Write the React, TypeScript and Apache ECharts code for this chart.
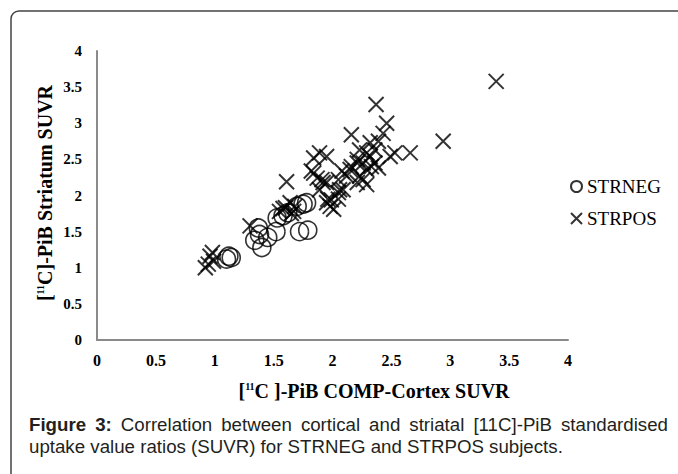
import React, { useEffect, useRef } from "react";
import * as echarts from "echarts";

// ---- data ----
const seriesNames = ["STRNEG", "STRPOS"];

const strnegX = [1.10, 1.12, 1.14, 1.37, 1.38, 1.34, 1.40, 1.45, 1.52, 1.53, 1.58, 1.62, 1.72, 1.79, 1.75, 1.78, 1.70];
const strnegY = [1.12, 1.16, 1.14, 1.55, 1.46, 1.38, 1.28, 1.42, 1.50, 1.69, 1.72, 1.76, 1.50, 1.52, 1.88, 1.90, 1.85];

const strposX = [
  0.92, 0.945, 0.96, 0.99, 0.98, 1.30, 1.55, 1.58, 1.60, 1.61, 1.64, 1.65, 1.67, 1.68,
  1.82, 1.84, 1.84, 1.87, 1.89, 1.89, 1.91, 1.92, 1.95, 1.95, 1.95, 1.96, 1.98, 1.99,
  2.01, 2.05, 2.05, 2.05, 2.06, 2.08, 2.09, 2.12, 2.15, 2.16, 2.16, 2.21, 2.21, 2.21,
  2.23, 2.23, 2.26, 2.26, 2.29, 2.29, 2.29, 2.32, 2.32, 2.33, 2.36, 2.36, 2.37, 2.39,
  2.39, 2.43, 2.46, 2.49, 2.53, 2.66, 2.94, 3.39,
];
const strposY = [
  1.00, 1.05, 1.16, 1.09, 1.21, 1.58, 1.78, 1.82, 1.83, 2.19, 1.90, 1.75, 1.78, 1.85,
  2.34, 2.31, 2.52, 2.24, 2.59, 2.08, 2.22, 2.18, 2.54, 2.18, 1.90, 1.95, 1.85, 1.94,
  1.81, 1.95, 2.22, 2.04, 2.08, 2.34, 2.08, 2.27, 2.36, 2.40, 2.84, 2.45, 2.50, 2.18,
  2.63, 2.27, 2.45, 2.22, 2.59, 2.15, 2.36, 2.54, 2.73, 2.40, 2.63, 2.45, 3.26, 2.75,
  2.38, 2.86, 3.00, 2.54, 2.59, 2.59, 2.75, 3.58,
];

const axisMin = 0;
const axisMax = 4;
const axisStep = 0.5;

const xTitle = "{a|[}{s|11}{a|C ]-PiB COMP-Cortex SUVR}";
const yTitle = "{a|[}{s|11}{a|C]-PiB Striatum SUVR}";
const captionLine1 = [
  { t: "Figure", b: true },
  { t: "3:", b: true },
  { t: "Correlation", b: false },
  { t: "between", b: false },
  { t: "cortical", b: false },
  { t: "and", b: false },
  { t: "striatal", b: false },
  { t: "[11C]-PiB", b: false },
  { t: "standardised", b: false },
];
const captionLine2 = "uptake value ratios (SUVR) for STRNEG and STRPOS subjects.";

const SERIF = "'Liberation Serif', 'Times New Roman', serif";
const SANS = "'Liberation Sans', Arial, sans-serif";

export default function App() {
  const ref = useRef<HTMLDivElement>(null);

  useEffect(() => {
    if (!ref.current) return;
    const chart = echarts.init(ref.current, undefined, { renderer: "svg" });

    // justified first caption line
    const capSize = 18.7;
    const capLeft = 29;
    const capRight = 668;
    const canvas = document.createElement("canvas");
    const ctx = canvas.getContext("2d")!;
    const widths = captionLine1.map((w) => {
      ctx.font = `${w.b ? "bold " : ""}${capSize}px "Liberation Sans", Arial, sans-serif`;
      return ctx.measureText(w.t).width;
    });
    const total = widths.reduce((a, b) => a + b, 0);
    const gap = (capRight - capLeft - total) / (captionLine1.length - 1);
    let cx = capLeft;
    const captionWords: any[] = captionLine1.map((w, i) => {
      const el = {
        type: "text",
        x: cx,
        y: 424,
        silent: true,
        style: {
          text: w.t,
          fontFamily: SANS,
          fontSize: capSize,
          fontWeight: w.b ? "bold" : "normal",
          fill: "#231f20",
          align: "left",
          textAlign: "left",
          verticalAlign: "middle",
          textVerticalAlign: "middle",
        },
      };
      cx += widths[i] + gap;
      return el;
    });

    const titleRich = {
      a: { fontFamily: SERIF, fontWeight: "bold", fontSize: 20, fill: "#000", color: "#000", lineHeight: 22 },
      s: { fontFamily: SERIF, fontWeight: "bold", fontSize: 10, fill: "#000", color: "#000", lineHeight: 22, verticalAlign: "top", padding: [1, 0, 0, 0] },
    };

    const option: any = {
      animation: false,
      backgroundColor: "#fff",
      grid: { left: 97, right: 110, top: 51, bottom: 134, containLabel: false, outerBoundsMode: "none" },
      legend: {
        data: seriesNames,
        orient: "vertical",
        left: 565,
        top: 171,
        itemWidth: 11,
        itemHeight: 11,
        itemGap: 11,
        textStyle: { fontFamily: SERIF, fontSize: 19, color: "#000", lineHeight: 21 },
      },
      xAxis: {
        type: "value",
        min: axisMin,
        max: axisMax,
        interval: axisStep,
        axisLine: { show: true, onZero: false, lineStyle: { color: "#8a8a8a", width: 2 } },
        axisTick: { show: false },
        splitLine: { show: false },
        axisLabel: { fontFamily: SERIF, fontWeight: "bold", fontSize: 16, color: "#000", margin: 12 },
      },
      yAxis: {
        type: "value",
        min: axisMin,
        max: axisMax,
        interval: axisStep,
        axisLine: { show: true, onZero: false, lineStyle: { color: "#8a8a8a", width: 2 } },
        axisTick: { show: false },
        splitLine: { show: false },
        axisLabel: { fontFamily: SERIF, fontWeight: "bold", fontSize: 15, color: "#000", margin: 15 },
      },
      series: [
        {
          name: seriesNames[0],
          type: "scatter",
          symbol: "circle",
          symbolSize: 18,
          data: strnegX.map((x, i) => [x, strnegY[i]]),
          itemStyle: { color: "rgba(0,0,0,0)", borderColor: "#000", borderWidth: 1.6 },
        },
        {
          name: seriesNames[1],
          type: "scatter",
          symbol: "path://M0,0L10,10M10,0L0,10",
          symbolSize: 15,
          data: strposX.map((x, i) => [x, strposY[i]]),
          itemStyle: { color: "rgba(0,0,0,0)", borderColor: "#000", borderWidth: 2 },
        },
      ],
      graphic: [
        {
          type: "rect",
          silent: true,
          shape: { x: 11, y: 11, width: 720, height: 520, r: 8 },
          style: { fill: "none", stroke: "#444", lineWidth: 1.5 },
        },
        {
          type: "text",
          x: 374,
          y: 391,
          silent: true,
          style: {
            text: xTitle,
            rich: titleRich,
            align: "center",
            textAlign: "center",
            verticalAlign: "middle",
            textVerticalAlign: "middle",
          },
        },
        {
          type: "text",
          x: 45,
          y: 193,
          rotation: Math.PI / 2,
          silent: true,
          style: {
            text: yTitle,
            rich: titleRich,
            align: "center",
            textAlign: "center",
            verticalAlign: "middle",
            textVerticalAlign: "middle",
          },
        },
        ...captionWords,
        {
          type: "text",
          x: capLeft,
          y: 446,
          silent: true,
          style: {
            text: captionLine2,
            fontFamily: SANS,
            fontSize: capSize,
            fill: "#231f20",
            align: "left",
            textAlign: "left",
            verticalAlign: "middle",
            textVerticalAlign: "middle",
          },
        },
      ],
    };

    chart.setOption(option);
    return () => chart.dispose();
  }, []);

  return (
    <div
      ref={ref}
      style={{ position: "fixed", left: 0, top: 0, width: 678, height: 474, background: "#fff" }}
    />
  );
}
